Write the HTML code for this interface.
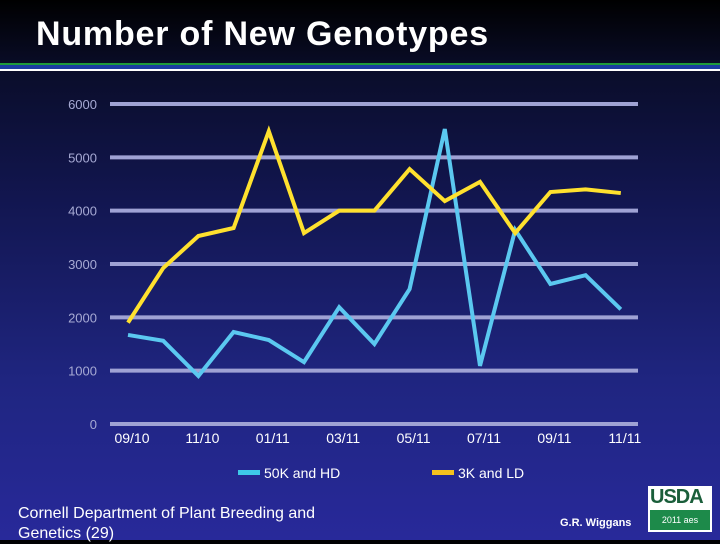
<!DOCTYPE html>
<html><head><meta charset="utf-8"><style>
html,body{margin:0;padding:0;}
body{width:720px;height:540px;overflow:hidden;position:relative;font-family:"Liberation Sans",sans-serif;
background:linear-gradient(to bottom,#000000 0px,#0a0d2a 70px,#121650 200px,#1f2580 380px,#28299a 540px);}
.t{position:absolute;color:#fff;white-space:nowrap;}
</style></head><body>
<div class="t" style="left:36px;top:15px;font-size:34px;font-weight:bold;letter-spacing:0.8px;">Number of New Genotypes</div>
<div style="position:absolute;left:0;top:63px;width:720px;height:2px;background:#1f9a3a"></div>
<div style="position:absolute;left:0;top:65px;width:720px;height:4px;background:#1a3ca0"></div>
<div style="position:absolute;left:0;top:69px;width:720px;height:2px;background:#fff"></div>
<svg id="chart" width="720" height="540" style="position:absolute;left:0;top:0"></svg>
<div class="t" style="left:18px;top:504px;font-size:16px;line-height:20px;">Cornell Department of Plant Breeding and<br>Genetics (29)</div>
<div class="t" style="left:560px;top:517px;font-size:11px;font-weight:bold;">G.R. Wiggans</div>
<div style="position:absolute;left:648px;top:486px;width:64px;height:46px;background:#fff;">
<div style="position:absolute;left:2px;top:0;font-size:20px;font-weight:bold;color:#1a5e3a;letter-spacing:-1px">USDA</div>
<div style="position:absolute;left:2px;top:24px;width:60px;height:20px;background:#1d8a4a;color:#fff;font-size:9px;line-height:20px;text-align:center">2011 aes</div>
</div>
<script>
const categories=["09/10","10/10","11/10","12/10","01/11","02/11","03/11","04/11","05/11","06/11","07/11","08/11","09/11","10/11","11/11"];
const hdValues=[1670,1560,900,1725,1575,1160,2190,1500,2530,5530,1090,3640,2625,2790,2150];
const ldValues=[1900,2925,3525,3675,5490,3580,4000,4000,4780,4180,4540,3580,4350,4400,4330];
const yTicks=[0,1000,2000,3000,4000,5000,6000];
const xLabels=["09/10","11/10","01/11","03/11","05/11","07/11","09/11","11/11"];
const xLabelIdx=[0,2,4,6,8,10,12,14];
const NS="http://www.w3.org/2000/svg";
const svg=document.getElementById('chart');
const y=v=>424-v*(320/6000);
const x=i=>128+i*35.2;
function mk(t,a){const e=document.createElementNS(NS,t);for(const k in a)e.setAttribute(k,a[k]);svg.appendChild(e);return e;}
yTicks.forEach(v=>{
 const l=mk('line',{x1:110,x2:638,y1:y(v),y2:y(v),stroke:'#9fa2d4','stroke-width':4});
 
 
 const t=mk('text',{x:97,y:y(v)+5,'text-anchor':'end',fill:'#a7aad4','font-size':13,'font-family':'Liberation Sans, sans-serif'});
 t.textContent=v;
 
 
});
xLabels.forEach((s,k)=>{
 const t=mk('text',{x:x(xLabelIdx[k])+4,y:443,'text-anchor':'middle',fill:'#fff','font-size':14,'font-family':'Liberation Sans, sans-serif'});
 t.textContent=s;
 
 
});
function series(vals,color,name){
 const p=mk('polyline',{points:vals.map((v,i)=>x(i)+','+y(v)).join(' '),fill:'none',stroke:color,'stroke-width':4,'stroke-linejoin':'miter'});
 
 
}
series(hdValues,'#5bc8f0','series-50k-hd');
series(ldValues,'#ffe12e','series-3k-ld');
function legend(lx,color,label,name){
 const r=mk('rect',{x:lx,y:470,width:22,height:5,fill:color});
 
 
 const t=mk('text',{x:lx+26,y:478,fill:'#fff','font-size':14,'font-family':'Liberation Sans, sans-serif'});
 t.textContent=label;
 
 
}
legend(238,'#3ec8e8','50K and HD','legend-50k-hd');
legend(432,'#f5c21e','3K and LD','legend-3k-ld');
</script>
</body></html>
